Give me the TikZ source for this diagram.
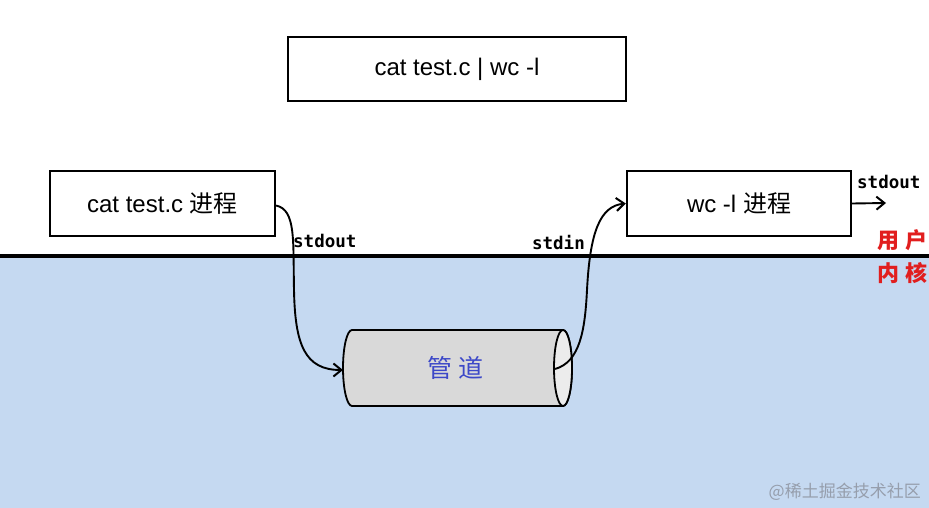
\documentclass[tikz,border=0pt]{standalone}
\usepackage{fontspec}
\setmainfont{Liberation Sans}
\newfontfamily\cjk{Noto Sans CJK SC}
\newfontfamily\monob{DejaVu Sans Mono}
\usetikzlibrary{arrows.meta}
\definecolor{kernelblue}{RGB}{197,217,241}
\definecolor{pipegray}{RGB}{217,217,217}
\definecolor{pipeend}{RGB}{236,236,236}
\definecolor{pipetext}{RGB}{60,72,200}
\definecolor{layerred}{RGB}{225,30,30}
\definecolor{wmgray}{RGB}{150,158,172}
\tikzset{
  procbox/.style={draw=black, line width=2.3pt, fill=white, inner sep=0pt,
    font=\fontsize{24}{28}\selectfont},
  flowlabel/.style={font=\monob\bfseries\fontsize{17.5}{20}\selectfont, inner sep=0pt},
  layerlabel/.style={font=\cjk\bfseries\fontsize{22}{26}\selectfont, text=layerred, inner sep=0pt},
  flow/.style={line width=1.9pt, -{Straight Barb[length=8pt,width=13pt,line width=2pt]}}
}
\begin{document}
\begin{tikzpicture}[x=1pt,y=-1pt]
\useasboundingbox (0,0) rectangle (929,508);
% kernel area
\fill[kernelblue] (0,256) rectangle (929,508);
\draw[line width=3.2pt] (0,256) -- (929,256);

% boxes
\node[procbox, minimum width=338pt, minimum height=64pt] (cmd) at (457,69) {cat test.c | wc -l};
\node[procbox, minimum width=225pt, minimum height=65pt] (cat) at (162.5,203.5) {cat test.c {\cjk 进程}};
\node[procbox, minimum width=224pt, minimum height=65pt] (wc) at (739,203.5) {wc -l {\cjk 进程}};

% pipe cylinder
\filldraw[fill=pipegray, draw=black, line width=1.8pt]
  (352,330) -- (563,330) arc[start angle=90, end angle=-90, x radius=9pt, y radius=38pt]
  -- (352,406) arc[start angle=270, end angle=90, x radius=9pt, y radius=38pt] -- cycle;
\filldraw[fill=pipeend, draw=black, line width=1.8pt] (563,368) ellipse[x radius=9pt, y radius=38pt];
\node[font=\cjk\fontsize{25}{28}\selectfont, text=pipetext, inner sep=0pt] (pipe) at (455,368) {管\hspace{6pt}道};
\coordinate (pipein) at (343,370);
\coordinate (pipeout) at (555,369);
\coordinate (catout) at ([yshift=-2pt]cat.east);
\coordinate (wcin) at (wc.west);
\coordinate (outend) at (886,203);

% connectors
\draw[flow] (catout) .. controls (296,210) and (293,240) .. (294,290)
  .. controls (295,345) and (305,370) .. (pipein);
\draw[flow] (pipeout) .. controls (580,362) and (585,330) .. (587,290)
  .. controls (590,232) and (600,206) .. (wcin);
\draw[flow] (wc.east) -- (outend);

% labels
\node[flowlabel, anchor=base west] (lbl1) at (293,247) {stdout};
\node[flowlabel, anchor=base east] (lbl2) at (585,249) {stdin};
\node[flowlabel, anchor=base west] (lbl3) at (857,189) {stdout};
\node[layerlabel, anchor=west] (user) at (877,240) {用\hspace{6pt}户};
\node[layerlabel, anchor=west] (kern) at (877,273) {内\hspace{6pt}核};

% watermark
\node[font=\cjk\fontsize{17}{20}\selectfont, text=wmgray, anchor=east, inner sep=0pt] (wm) at (921,492) {@稀土掘金技术社区};
\end{tikzpicture}
\end{document}
